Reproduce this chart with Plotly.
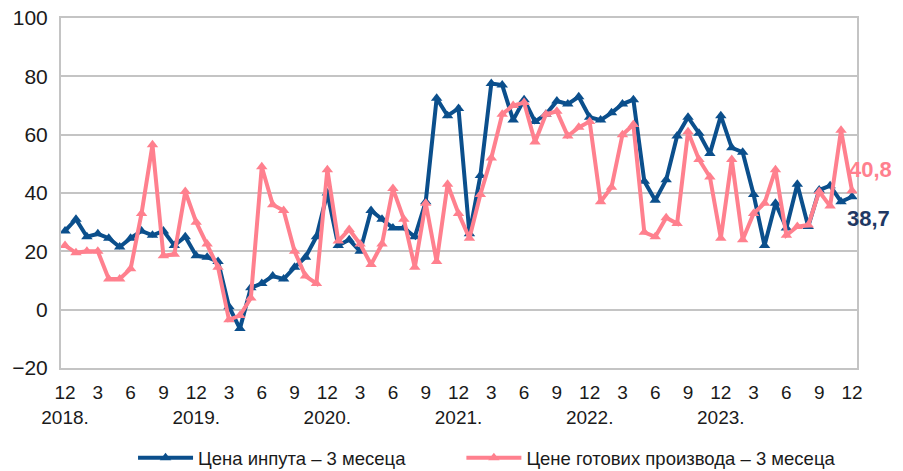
import plotly.graph_objects as go

# monthly readings, Dec 2018 onwards (73 points)
input_price = [27, 31, 25, 26, 24.5, 21.5, 24.5, 27, 25.5, 27, 22, 25,
               18.5, 18, 16.5, 1, -6.5, 7.5, 9, 11.5, 10.5, 14.5, 18, 25,
               40, 22, 24, 20, 34, 31, 28, 28, 25, 37, 72.5, 66.5,
               69, 26, 46, 77.5, 77, 65, 72, 64.5, 67, 71.5, 70.5, 73,
               66, 65, 67.5, 70.5, 72, 44, 37.5, 44.5, 59.5, 66, 60.5, 53.5,
               66.5, 55.5, 54, 39.5, 22, 36.5, 28, 43, 28.5, 41, 42.5, 37,
               38.7]
output_price = [22, 19.5, 20, 20, 10.5, 10.5, 14, 33, 56.5, 18.5, 19, 40.5,
                30, 22.5, 14.5, -3.5, -2, 4, 49, 36, 34, 20, 11.5, 9,
                48, 23.5, 27.5, 22.5, 15.5, 22.5, 41.5, 31, 14.5, 36.5, 16.5, 43,
                33, 24.5, 39.5, 52, 67, 70, 71, 57.5, 67, 68, 59.5, 62.5,
                64.5, 37, 42, 60, 63.5, 26.5, 25, 31.5, 29.5, 61, 51.5, 45.5,
                24.5, 51.5, 24, 33, 36.5, 48, 25.5, 28.5, 29, 40.5, 35.5, 61.5,
                40.8]

tick_months = ['12', '3', '6', '9'] * 6 + ['12']
tick_years = ['2018.', '2019.', '2020.', '2021.', '2022.', '2023.']

blue = '#0B4F8C'
pink = '#FF808E'
grid = '#C4C4C4'
font = 'Liberation Sans, Arial, sans-serif'

x = list(range(len(input_price)))
tickvals = x[::3]
ticktext = []
for k, m in enumerate(tick_months):
    if k % 4 == 0 and k // 4 < len(tick_years):
        ticktext.append(m + '<br>' + tick_years[k // 4])
    else:
        ticktext.append(m)

fig = go.Figure()
fig.add_trace(go.Scatter(
    x=x, y=input_price, mode='lines+markers',
    name='Цена инпута – 3 месеца', legend='legend',
    line=dict(color=blue, width=4),
    marker=dict(symbol='triangle-up', size=10, color=blue)))
fig.add_trace(go.Scatter(
    x=x, y=output_price, mode='lines+markers',
    name='Цене готових производа – 3 месеца', legend='legend2',
    line=dict(color=pink, width=4),
    marker=dict(symbol='triangle-up', size=10, color=pink)))

fig.add_annotation(x=x[-1], y=input_price[-1], text='<b>38,7</b>',
                   showarrow=False, xanchor='left', yanchor='middle',
                   xshift=-7, yshift=-22, font=dict(size=22, color='#1F3864'))
fig.add_annotation(x=x[-1], y=output_price[-1], text='<b>40,8</b>',
                   showarrow=False, xanchor='left', yanchor='middle',
                   xshift=-5, yshift=21, font=dict(size=22, color=pink))

legend_style = dict(orientation='h', xanchor='left', y=-0.258, yanchor='middle',
                    font=dict(size=18.5), itemwidth=55, bgcolor='rgba(0,0,0,0)')

fig.update_layout(
    width=903, height=471,
    margin=dict(l=61, r=46, t=18, b=103, autoexpand=False),
    paper_bgcolor='white', plot_bgcolor='white',
    font=dict(family=font, size=19, color='#1a1a1a'),
    showlegend=True,
    legend=dict(x=0.0905, **legend_style),
    legend2=dict(x=0.503, **legend_style),
)
fig.update_xaxes(range=[-0.37, 72.46], tickvals=tickvals, ticktext=ticktext,
                 showgrid=False, zeroline=False, ticks='', ticklabelstandoff=6,
                 automargin=False,
                 showline=True, linecolor=grid, linewidth=2, mirror=True)
fig.update_yaxes(range=[-20, 100], dtick=20, showgrid=True, gridcolor=grid,
                 gridwidth=2, zeroline=False, ticks='', ticklabelstandoff=7,
                 automargin=False, tickfont=dict(size=21),
                 showline=True, linecolor=grid, linewidth=2, mirror=True)

# drop the default 8px body margin so the figure sits at the page corner
fig.write_html('out.html', config={'displayModeBar': False},
               post_script="document.body.style.margin='0px';")
